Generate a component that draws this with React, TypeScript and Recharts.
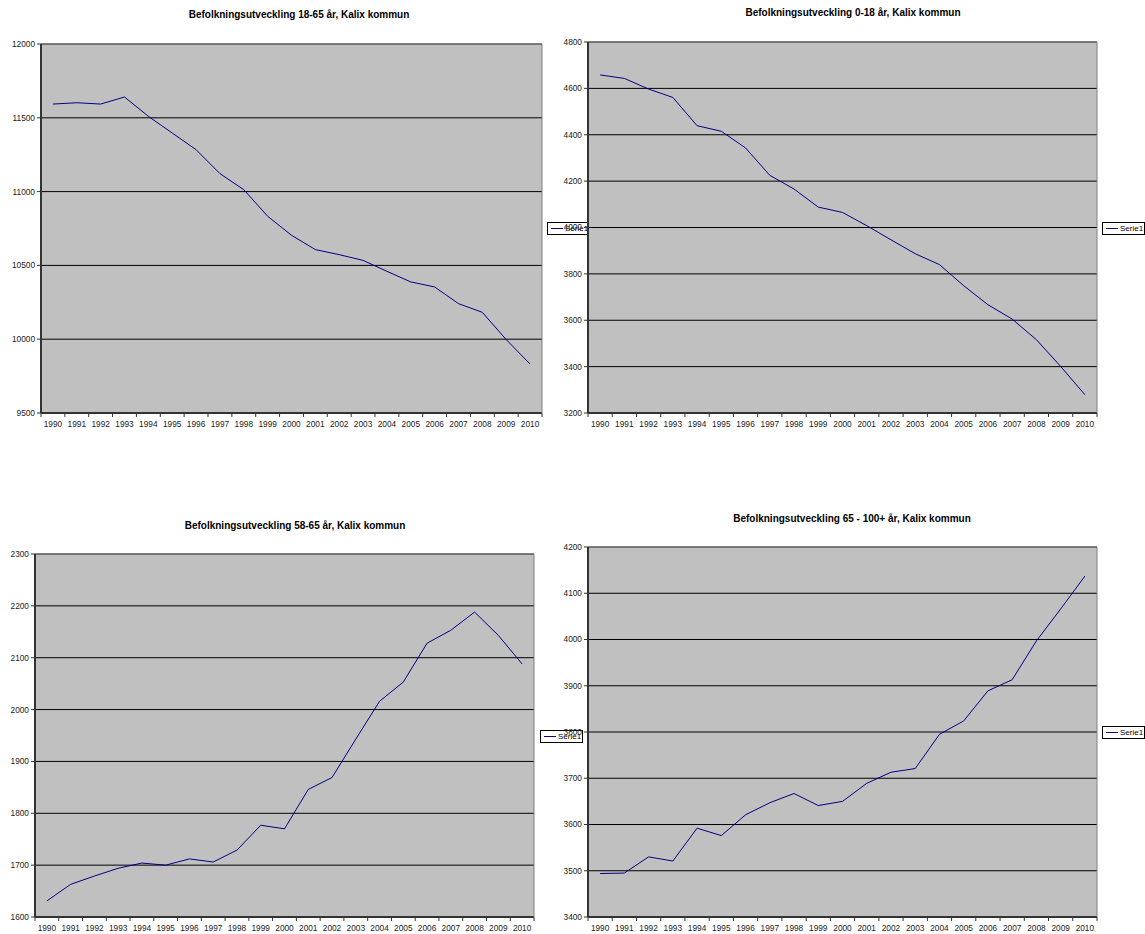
import React from 'react';
import { LineChart, Line, XAxis, YAxis, CartesianGrid, Legend } from 'recharts';

const years = ['1990', '1991', '1992', '1993', '1994', '1995', '1996', '1997', '1998', '1999', '2000', '2001', '2002', '2003', '2004', '2005', '2006', '2007', '2008', '2009', '2010'];

const age18to65 = [11593, 11602, 11593, 11641, 11510, 11397, 11284, 11122, 11013, 10833, 10704, 10607, 10573, 10534, 10460, 10388, 10354, 10241, 10182, 9997, 9832];
const age0to18 = [4658, 4643, 4597, 4561, 4439, 4415, 4343, 4225, 4166, 4088, 4065, 4008, 3947, 3887, 3840, 3749, 3667, 3605, 3516, 3401, 3279];
const age58to65 = [1631, 1663, 1679, 1694, 1704, 1700, 1712, 1706, 1729, 1777, 1770, 1846, 1869, 1943, 2016, 2053, 2128, 2153, 2188, 2143, 2088];
const age65to100 = [3494, 3495, 3530, 3521, 3592, 3576, 3621, 3647, 3667, 3641, 3650, 3689, 3713, 3721, 3795, 3824, 3889, 3913, 3997, 4066, 4137];

const ticks18to65 = [9500, 10000, 10500, 11000, 11500, 12000];
const ticks0to18 = [3200, 3400, 3600, 3800, 4000, 4200, 4400, 4600, 4800];
const ticks58to65 = [1600, 1700, 1800, 1900, 2000, 2100, 2200, 2300];
const ticks65to100 = [3400, 3500, 3600, 3700, 3800, 3900, 4000, 4100, 4200];

const title18to65 = 'Befolkningsutveckling 18-65 år, Kalix kommun';
const title0to18 = 'Befolkningsutveckling 0-18 år, Kalix kommun';
const title58to65 = 'Befolkningsutveckling 58-65 år, Kalix kommun';
const title65to100 = 'Befolkningsutveckling 65 - 100+ år, Kalix kommun';
const seriesName = 'Serie1';

const FONT = 'Arial, "Liberation Sans", sans-serif';
const X_AXIS_HEIGHT = 22;

const XTick = (props: any) => {
  const { x, y, payload, index, half } = props;
  return (
    <g>
      {index === 0 && <line x1={x - half} x2={x - half} y1={y} y2={y + 4} stroke="#333" />}
      <line x1={x + half} x2={x + half} y1={y} y2={y + 4} stroke="#333" />
      <text x={x} y={y + 14} textAnchor="middle" fontSize={8.3} fill="#222" fontFamily={FONT}>
        {payload.value}
      </text>
    </g>
  );
};

const LegendBox = (props: any) => {
  const items = props.payload || [];
  return (
    <div>
      {items.map((it: any) => (
        <div
          key={it.value}
          style={{
            border: '1px solid #000',
            background: '#fff',
            width: 41,
            height: 11,
            display: 'flex',
            alignItems: 'center',
            fontFamily: FONT,
            fontSize: 8,
            lineHeight: '11px',
            whiteSpace: 'nowrap',
            overflow: 'hidden',
            color: '#000',
          }}
        >
          <span style={{ display: 'inline-block', width: 12, height: 0, borderTop: `1px solid ${it.color}`, marginLeft: 3, marginRight: 2 }} />
          <span>{it.value}</span>
        </div>
      ))}
    </div>
  );
};

type PanelProps = {
  title: string;
  values: number[];
  ticks: number[];
  left: number;
  top: number;
  width: number;
  height: number;
  yAxisWidth: number;
  marginTop: number;
  marginRight: number;
  titleX: number;
  titleY: number;
  legendLeft: number;
  legendTop: number;
};

const Panel = (p: PanelProps) => {
  const data = years.map((year, i) => ({ year, value: p.values[i] }));
  const plotWidth = p.width - p.yAxisWidth - p.marginRight - 1;
  const half = plotWidth / years.length / 2;
  const domain = [p.ticks[0], p.ticks[p.ticks.length - 1]];
  return (
    <div style={{ position: 'absolute', left: p.left, top: p.top, width: p.width, height: p.height }}>
      <div
        style={{
          position: 'absolute',
          left: p.titleX - 250,
          width: 500,
          top: p.titleY - 6,
          lineHeight: '12px',
          textAlign: 'center',
          fontFamily: FONT,
          fontWeight: 'bold',
          fontSize: 10,
          color: '#000',
          whiteSpace: 'nowrap',
        }}
      >
        {p.title}
      </div>
      <LineChart
        width={p.width}
        height={p.height}
        data={data}
        margin={{ top: p.marginTop, right: p.marginRight, bottom: 0, left: 0 }}
      >
        <CartesianGrid vertical={false} fill="#C0C0C0" fillOpacity={1} stroke="#000" strokeWidth={1} />
        <XAxis
          dataKey="year"
          type="category"
          interval={0}
          height={X_AXIS_HEIGHT}
          padding={{ left: half, right: half }}
          tickLine={false}
          tickSize={0}
          tickMargin={0}
          axisLine={{ stroke: '#333', strokeWidth: 2 }}
          tick={<XTick half={half} />}
        />
        <XAxis
          xAxisId="top"
          dataKey="year"
          orientation="top"
          height={1}
          tick={false}
          tickLine={false}
          axisLine={{ stroke: '#808080', strokeWidth: 1 }}
        />
        <YAxis
          type="number"
          domain={domain}
          ticks={p.ticks}
          interval={0}
          width={p.yAxisWidth}
          tickSize={4}
          tickMargin={2}
          tickLine={{ stroke: '#333' }}
          axisLine={{ stroke: '#333', strokeWidth: 2 }}
          tick={{ fontSize: 8.3, fill: '#222', fontFamily: FONT }}
        />
        <YAxis
          yAxisId="right"
          orientation="right"
          type="number"
          domain={domain}
          width={1}
          tick={false}
          tickLine={false}
          axisLine={{ stroke: '#808080', strokeWidth: 1 }}
        />
        <Legend
          layout="horizontal"
          align="center"
          verticalAlign="middle"
          wrapperStyle={{ left: p.legendLeft, top: p.legendTop, width: 'auto', height: 'auto' }}
          content={(lp: any) => <LegendBox payload={lp.payload} />}
        />
        <Line
          type="linear"
          dataKey="value"
          name={seriesName}
          stroke="#000080"
          strokeWidth={1}
          dot={false}
          activeDot={false}
          isAnimationActive={false}
        />
      </LineChart>
    </div>
  );
};

export default function App() {
  return (
    <div style={{ position: 'absolute', left: 0, top: 0, width: 1145, height: 934, overflow: 'hidden', background: '#fff' }}>
      <Panel title={title18to65} values={age18to65} ticks={ticks18to65}
        left={0} top={0} width={560} height={413 + X_AXIS_HEIGHT}
        yAxisWidth={41} marginTop={43} marginRight={17}
        titleX={299} titleY={15} legendLeft={547} legendTop={222} />
      <Panel title={title0to18} values={age0to18} ticks={ticks0to18}
        left={543} top={0} width={564} height={413 + X_AXIS_HEIGHT}
        yAxisWidth={45} marginTop={41} marginRight={9}
        titleX={310} titleY={13} legendLeft={559} legendTop={222} />
      <Panel title={title58to65} values={age58to65} ticks={ticks58to65}
        left={0} top={500} width={545} height={417 + X_AXIS_HEIGHT}
        yAxisWidth={35} marginTop={53} marginRight={10}
        titleX={295} titleY={26} legendLeft={540} legendTop={230} />
      <Panel title={title65to100} values={age65to100} ticks={ticks65to100}
        left={543} top={500} width={564} height={417 + X_AXIS_HEIGHT}
        yAxisWidth={45} marginTop={46} marginRight={9}
        titleX={309} titleY={19} legendLeft={559} legendTop={226} />
    </div>
  );
}
